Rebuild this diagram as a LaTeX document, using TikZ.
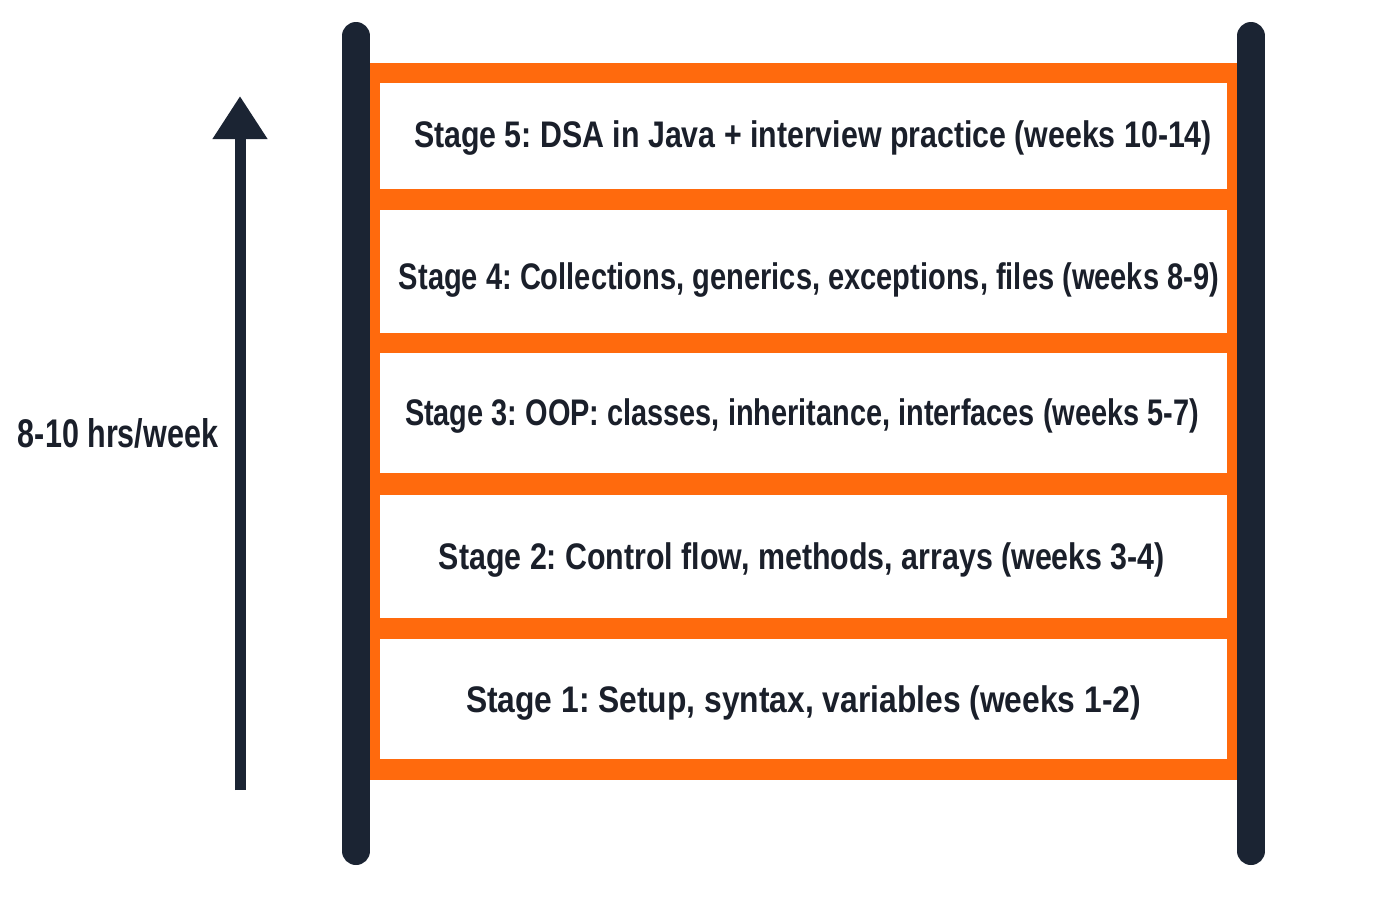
\documentclass[tikz,border=0pt]{standalone}
\usepackage{fontspec}
\usepackage{graphicx}
\setmainfont{Liberation Sans}
\frenchspacing
\usetikzlibrary{arrows.meta}
\definecolor{navy}{HTML}{1B2433}
\definecolor{ink}{HTML}{1A1F2A}
\definecolor{ladderorange}{HTML}{FF6A0D}
\newcommand\fitw[2]{\resizebox{#1pt}{\height}{#2}}
\tikzset{
  post/.style={draw=navy, line width=28pt, line cap=round},
  frame/.style={fill=ladderorange, draw=none, inner sep=0pt},
  rung/.style={fill=white, draw=none, inner sep=0pt, minimum width=847pt},
  stagetext/.style={text=ink, inner sep=0pt, anchor=base, font=\fontsize{37}{44}\selectfont\bfseries},
  sidetext/.style={text=ink, inner sep=0pt, anchor=base, font=\fontsize{40}{48}\selectfont\bfseries},
  uparrow/.style={draw=navy, line width=11pt, -{Triangle[length=43pt,width=52pt]}}
}
\begin{document}
\begin{tikzpicture}[x=1pt,y=-1pt]
\useasboundingbox[fill=white] (0,0) rectangle (1400,900);
% posts
\coordinate (lpt) at (356,36);
\coordinate (lpb) at (356,851);
\coordinate (rpt) at (1251,36);
\coordinate (rpb) at (1251,851);
\draw[post] (lpt) -- (lpb);
\draw[post] (rpt) -- (rpb);
% orange frame
\node[frame, minimum width=867pt, minimum height=717pt] (fr) at (803.5,421.5) {};
% rungs (white boxes)
\node[rung, minimum height=106pt] (b5) at (803.5,136) {};
\node[rung, minimum height=123pt] (b4) at (803.5,271.5) {};
\node[rung, minimum height=120pt] (b3) at (803.5,413) {};
\node[rung, minimum height=123pt] (b2) at (803.5,556.5) {};
\node[rung, minimum height=120pt] (b1) at (803.5,699) {};
% texts
\node[stagetext] (t5) at (813,147) {\fitw{798}{Stage 5: DSA in Java + interview practice (weeks 10-14)}};
\node[stagetext] (t4) at (809,289) {\fitw{820}{Stage 4: Collections, generics, exceptions, files (weeks 8-9)}};
\node[stagetext] (t3) at (802,425) {\fitw{794}{Stage 3: OOP: classes, inheritance, interfaces (weeks 5-7)}};
\node[stagetext] (t2) at (802,569) {\fitw{726}{Stage 2: Control flow, methods, arrays (weeks 3-4)}};
\node[stagetext] (t1) at (803.5,712) {\fitw{675}{Stage 1: Setup, syntax, variables (weeks 1-2)}};
% arrow and label
\coordinate (abot) at (240,790);
\coordinate (atop) at (240,96);
\draw[uparrow] (abot) -- (atop);
\node[sidetext] (lab) at (118,447) {\fitw{200}{8-10 hrs/week}};
\end{tikzpicture}
\end{document}
